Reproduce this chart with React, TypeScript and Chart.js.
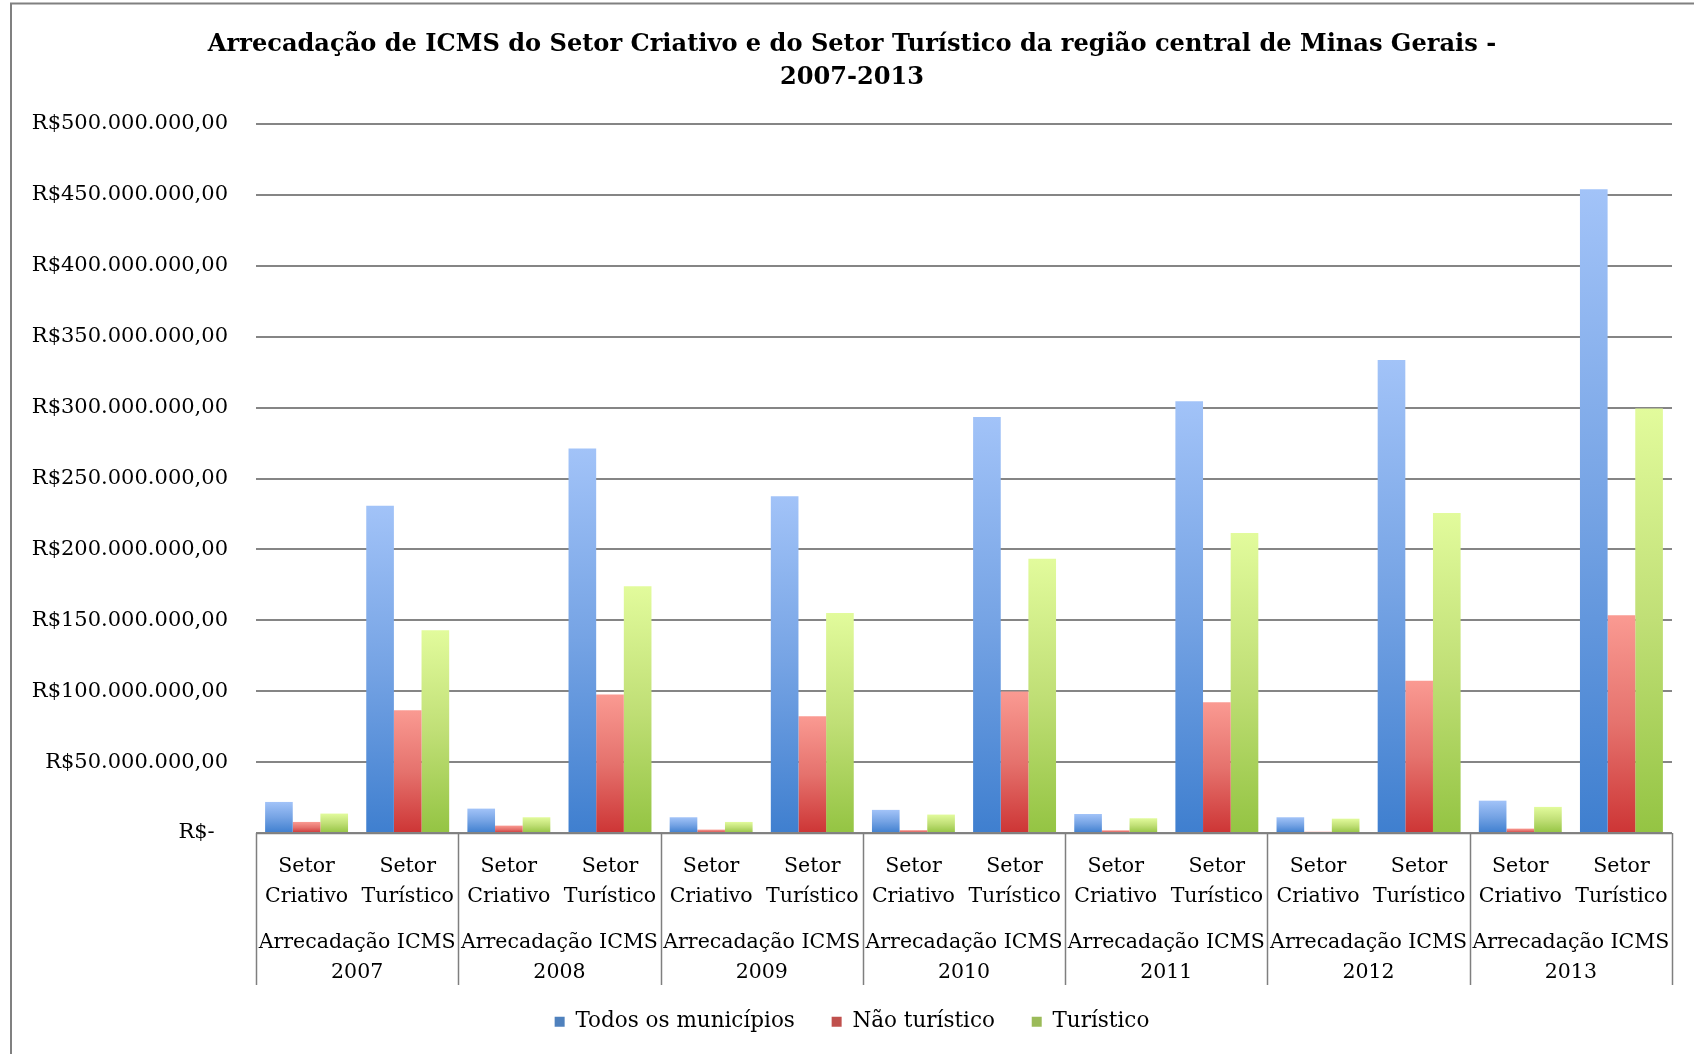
import React, { useEffect, useRef } from 'react';
import { Chart, registerables } from 'chart.js';

Chart.register(...registerables);

// ---------- data ----------
const titleLines = [
  'Arrecadação de ICMS do Setor Criativo e do Setor Turístico da região central de Minas Gerais -',
  '2007-2013',
];

const subCategories = [
  ['Setor', 'Criativo'], ['Setor', 'Turístico'],
  ['Setor', 'Criativo'], ['Setor', 'Turístico'],
  ['Setor', 'Criativo'], ['Setor', 'Turístico'],
  ['Setor', 'Criativo'], ['Setor', 'Turístico'],
  ['Setor', 'Criativo'], ['Setor', 'Turístico'],
  ['Setor', 'Criativo'], ['Setor', 'Turístico'],
  ['Setor', 'Criativo'], ['Setor', 'Turístico'],
];

const groupLabels = [
  ['Arrecadação ICMS', '2007'],
  ['Arrecadação ICMS', '2008'],
  ['Arrecadação ICMS', '2009'],
  ['Arrecadação ICMS', '2010'],
  ['Arrecadação ICMS', '2011'],
  ['Arrecadação ICMS', '2012'],
  ['Arrecadação ICMS', '2013'],
];

const seriesNames = ['Todos os municípios', 'Não turístico', 'Turístico'];

const todosMunicipios = [
  21900000, 230800000, 17200000, 271100000, 11100000, 237400000, 16300000,
  293400000, 13400000, 304500000, 11100000, 333500000, 22800000, 454000000,
];
const naoTuristico = [
  7800000, 86500000, 5200000, 97600000, 2400000, 82300000, 2000000,
  99800000, 1900000, 92200000, 900000, 107300000, 3100000, 153600000,
];
const turistico = [
  13700000, 143000000, 11100000, 174000000, 7800000, 155200000, 13000000,
  193400000, 10400000, 211500000, 10100000, 225600000, 18400000, 299300000,
];

const yMin = 0;
const yMax = 500000000;
const yStep = 50000000;

// ---------- styles ----------
const legendColors = ['#4f81bd', '#c0504d', '#9bbb59'];
const gradTop = ['#a2c3f8', '#fa9a92', '#e2fb9c'];
const gradMid = ['#75a3e4', '#e5726d', '#c0df76'];
const gradBottom = ['#3f7fcf', '#cd3535', '#94c443'];

const FONT = 'DejaVu Serif';

function formatBRL(v: number): string {
  if (v === 0) return 'R$-  ';
  const s = Math.round(v).toString().replace(/\B(?=(\d{3})+(?!\d))/g, '.');
  return 'R$' + s + ',00';
}

function barFill(i: number) {
  return (ctx: any) => {
    if (ctx.type !== 'data') return legendColors[i];
    const chart = ctx.chart;
    const ys = chart.scales && chart.scales.y;
    if (!ys || !chart.chartArea) return legendColors[i];
    const top = ys.getPixelForValue(ctx.raw);
    const bottom = ys.getPixelForValue(0);
    if (!isFinite(top) || !isFinite(bottom) || bottom - top < 1) return gradMid[i];
    const g = chart.ctx.createLinearGradient(0, top, 0, bottom);
    g.addColorStop(0, gradTop[i]);
    g.addColorStop(0.5, gradMid[i]);
    g.addColorStop(1, gradBottom[i]);
    return g;
  };
}

const decorPlugin = {
  id: 'decor',
  afterDraw(chart: any) {
    const { ctx, chartArea, scales } = chart;
    const xs = scales.x;
    const x2 = scales.x2;
    ctx.save();
    ctx.strokeStyle = '#7f7f7f';
    ctx.lineWidth = 1.5;
    const step = xs.getPixelForValue(1) - xs.getPixelForValue(0);
    const start = xs.getPixelForValue(0) - step / 2;
    for (let i = 0; i <= subCategories.length; i += 2) {
      const px = Math.round(start + i * step) + 0.5;
      ctx.beginPath();
      ctx.moveTo(px, chartArea.bottom);
      ctx.lineTo(px, x2.bottom);
      ctx.stroke();
    }
    ctx.beginPath();
    ctx.moveTo(chartArea.left, chartArea.bottom + 0.5);
    ctx.lineTo(chartArea.right, chartArea.bottom + 0.5);
    ctx.stroke();
    ctx.strokeStyle = '#808080';
    ctx.lineWidth = 2;
    ctx.beginPath();
    ctx.moveTo(11, chart.height);
    ctx.lineTo(11, 3.5);
    ctx.lineTo(chart.width, 3.5);
    ctx.stroke();
    ctx.restore();
  },
};

export default function App() {
  const canvasRef = useRef<HTMLCanvasElement | null>(null);

  useEffect(() => {
    if (!canvasRef.current) return;
    Chart.defaults.font.family = FONT;
    Chart.defaults.color = '#000';
    const datasets = [todosMunicipios, naoTuristico, turistico].map((d, i) => ({
      label: seriesNames[i],
      data: d,
      xAxisID: 'x',
      yAxisID: 'y',
      backgroundColor: barFill(i),
      borderWidth: 0,
      categoryPercentage: 0.82,
      barPercentage: 1.0,
    }));

    const chart = new Chart(canvasRef.current, {
      type: 'bar',
      data: { labels: subCategories as any, datasets: datasets as any },
      plugins: [decorPlugin],
      options: {
        responsive: false,
        animation: false,
        devicePixelRatio: 1,
        layout: { padding: { left: 10, right: 0, top: 0, bottom: 11.5 } },
        plugins: {
          title: {
            display: true,
            text: titleLines,
            color: '#000',
            font: { family: FONT, size: 24.1, weight: 'bold', lineHeight: 33 / 24.1 },
            padding: { top: 28.5, bottom: 29.5 },
          },
          legend: {
            display: true,
            position: 'bottom',
            labels: {
              boxWidth: 10,
              boxHeight: 10,
              padding: 26,
              color: '#000',
              font: { family: FONT, size: 21.5 },
              generateLabels: (c: any) => {
                const items = Chart.defaults.plugins.legend.labels.generateLabels(c);
                return items.map((it: any, idx: number) => ({
                  ...it,
                  text: idx < items.length - 1 ? it.text + '\u2002' : it.text,
                  fillStyle: legendColors[idx],
                  strokeStyle: legendColors[idx],
                  lineWidth: 0,
                }));
              },
            },
          },
          tooltip: { enabled: false },
        },
        scales: {
          x: {
            type: 'category',
            position: 'bottom',
            weight: 0,
            offset: true,
            grid: { display: false, drawTicks: false },
            border: { display: false },
            ticks: {
              autoSkip: false,
              maxRotation: 0,
              minRotation: 0,
              padding: 19,
              color: '#000',
              font: { family: FONT, size: 20.5, lineHeight: 29.5 / 20.5 },
            },
            afterFit: (s: any) => { s.height = 73; },
          },
          x2: {
            type: 'category',
            position: 'bottom',
            weight: 1,
            labels: groupLabels as any,
            offset: true,
            grid: { display: false, drawTicks: false },
            border: { display: false },
            ticks: {
              autoSkip: false,
              maxRotation: 0,
              minRotation: 0,
              padding: 22,
              color: '#000',
              font: { family: FONT, size: 20.5, lineHeight: 29.5 / 20.5 },
            },
            afterFit: (s: any) => { s.height = 79; },
          },
          y: {
            type: 'linear',
            position: 'left',
            min: yMin,
            max: yMax,
            grid: { color: '#858585', lineWidth: 2, drawTicks: false },
            border: { display: false },
            ticks: {
              stepSize: yStep,
              padding: 28,
              color: '#000',
              font: { family: FONT, size: 21 },
              callback: (v: any) => formatBRL(Number(v)),
            },
            afterFit: (s: any) => { s.width = 246; },
          },
          yRight: {
            type: 'linear',
            position: 'right',
            display: true,
            grid: { display: false, drawTicks: false },
            border: { display: false },
            ticks: { display: false },
            afterFit: (s: any) => { s.width = 22; },
          },
        },
      } as any,
    });
    return () => chart.destroy();
  }, []);

  return (
    <div style={{ position: 'absolute', left: 0, top: 0, width: 1694, height: 1054, background: '#fff' }}>
      <canvas ref={canvasRef} width={1694} height={1054} style={{ display: 'block' }} />
    </div>
  );
}
